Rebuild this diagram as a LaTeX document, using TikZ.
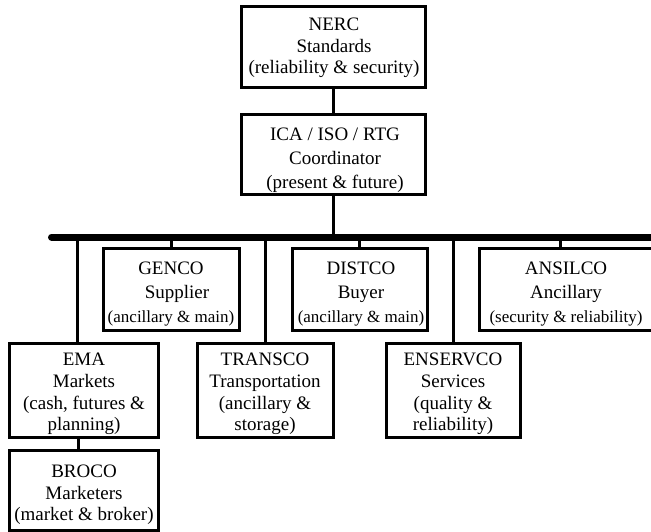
\documentclass[tikz,border=0pt]{standalone}
\usepackage{fontspec}
\usepackage{graphicx}
\setmainfont{Liberation Serif}
\begin{document}
\begin{tikzpicture}[x=1pt,y=-1pt,
  box/.style={draw, line width=3pt, rectangle, inner sep=0pt},
  txt/.style={align=center, inner sep=0pt, font=\fontsize{19}{21.7}\selectfont},
  txttop/.style={align=center, inner sep=0pt, font=\fontsize{19}{24}\selectfont},
  link/.style={line width=3pt},
  busline/.style={line width=7pt, line cap=round}]
\useasboundingbox (0,0) rectangle (651,532);
% boxes
\node[box, minimum width=184pt, minimum height=81pt] (nerc) at (333,47.5) {};
\node[box, minimum width=184pt, minimum height=80pt] (ica) at (333,155) {};
\node[box, minimum width=136pt, minimum height=82pt] (genco) at (171,289) {};
\node[box, minimum width=135pt, minimum height=82pt] (distco) at (359.5,289) {};
\node[box, minimum width=174pt, minimum height=82pt] (ansilco) at (566,289) {};
\node[box, minimum width=149pt, minimum height=94pt] (ema) at (83.5,390) {};
\node[box, minimum width=136pt, minimum height=94pt] (transco) at (265,390) {};
\node[box, minimum width=134pt, minimum height=94pt] (enservco) at (453,390) {};
\node[box, minimum width=149pt, minimum height=80pt] (broco) at (83.5,490) {};
% texts
\node[txt] (nerc-t) at (334,48) {NERC\\Standards\\(reliability \& security)};
\node[txttop] (ica-t) at (335,160) {ICA / ISO / RTG\\Coordinator\\(present \& future)};
\node[txttop] (genco-t) at (171,294) {GENCO\\\hspace*{12pt}Supplier\\{\fontsize{17}{24}\selectfont(ancillary \& main)}};
\node[txttop] (distco-t) at (361,294) {DISTCO\\Buyer\\{\fontsize{17}{24}\selectfont(ancillary \& main)}};
\node[txttop] (ansilco-t) at (566,294) {ANSILCO\\Ancillary\\{\fontsize{17}{24}\selectfont(security \& reliability)}};
\node[txt] (ema-t) at (84,394) {EMA\\Markets\\(cash, futures \&\\planning)};
\node[txt] (transco-t) at (265,394) {TRANSCO\\Transportation\\(ancillary \&\\storage)};
\node[txt] (enservco-t) at (453,394) {ENSERVCO\\Services\\(quality \&\\reliability)};
\node[txt] (broco-t) at (84,495) {BROCO\\Marketers\\(market \& broker)};
% bus
\coordinate (busL) at (51.5,237);
\coordinate (busR) at (660,237);
\draw[busline] (busL) -- (busR);
\coordinate (bEma) at (77,237);
\coordinate (bGen) at (171,237);
\coordinate (bTra) at (265,237);
\coordinate (bIca) at (333,237);
\coordinate (bDis) at (359,237);
\coordinate (bEns) at (453,237);
\coordinate (bAns) at (560,237);
% connectors
\draw[link] (nerc.south) -- (ica.north);
\draw[link] (ica.south) -- (bIca);
\draw[link] (bGen) -- (bGen |- genco.north);
\draw[link] (bDis) -- (bDis |- distco.north);
\draw[link] (bAns) -- (bAns |- ansilco.north);
\draw[link] (bEma) -- (bEma |- ema.north);
\draw[link] (bTra) -- (bTra |- transco.north);
\draw[link] (bEns) -- (bEns |- enservco.north);
\coordinate (emaB) at (78,437);
\draw[link] (emaB) -- (emaB |- broco.north);
\end{tikzpicture}
\end{document}
